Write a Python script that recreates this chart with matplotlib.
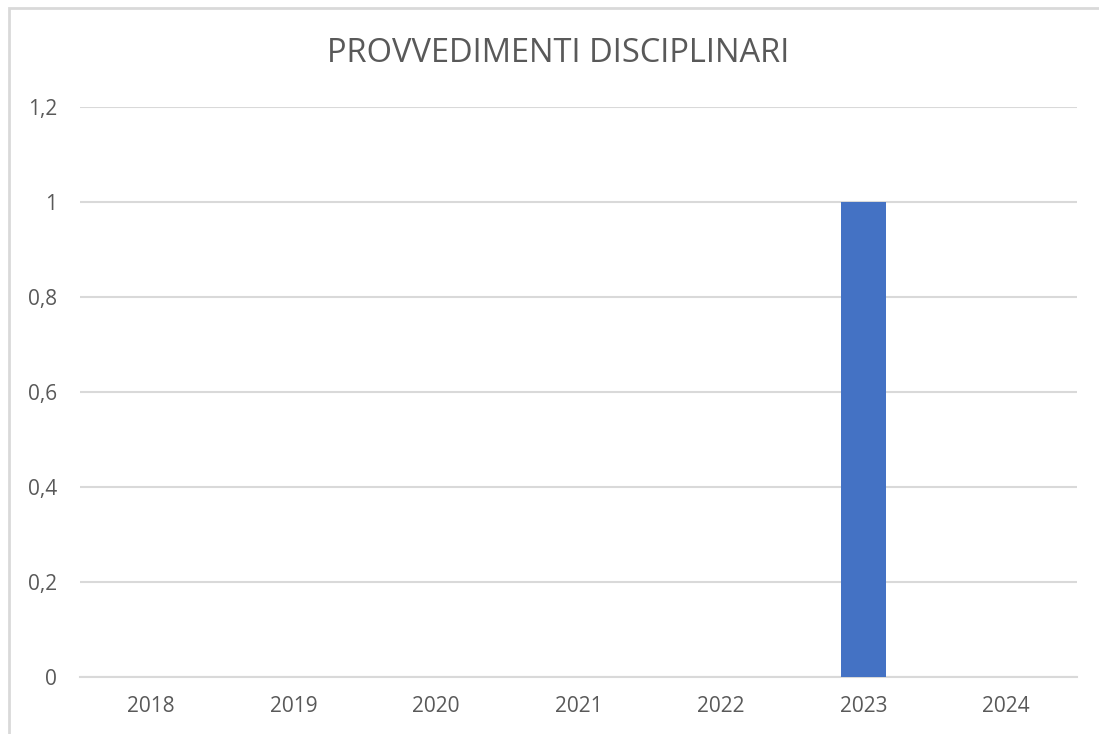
import matplotlib.pyplot as plt
from matplotlib.patches import Rectangle

years  = ["2018", "2019", "2020", "2021", "2022", "2023", "2024"]
values = [0, 0, 0, 0, 0, 1, 0]
y_ticks  = [0, 0.2, 0.4, 0.6, 0.8, 1.0, 1.2]
y_labels = ["0", "0,2", "0,4", "0,6", "0,8", "1", "1,2"]

plt.rcParams["font.family"] = ["Open Sans", "DejaVu Sans"]
TEXT = "#595959"
GRID = "#D9D9D9"

fig = plt.figure(figsize=(10.99, 7.34), dpi=100)
ax = fig.add_axes([80 / 1099, 1 - 677 / 734, (1077 - 80) / 1099, (677 - 107) / 734])

# outer chart frame (cropped at right/bottom like the screenshot)
fig.patches.append(Rectangle((9 / 1099, -0.1), 1.2, 1 - 8 / 734 + 0.1,
                             transform=fig.transFigure, fill=False,
                             edgecolor=GRID, linewidth=2))

x = range(len(years))
ax.bar(x, values, width=0.316, color="#4472C4", zorder=3)

ax.set_xlim(-0.5, len(years) - 0.5)
ax.set_ylim(0, 1.2)
ax.set_xticks(list(x))
ax.set_xticklabels(years)
ax.set_yticks(y_ticks)
ax.set_yticklabels(y_labels)
ax.tick_params(axis="both", length=0, labelsize=15, colors=TEXT)
ax.tick_params(axis="y", pad=16.5)
ax.tick_params(axis="x", pad=14)
ax.yaxis.grid(True, color=GRID, linewidth=1.5)
ax.set_axisbelow(True)
for s in ["top", "right", "left"]:
    ax.spines[s].set_visible(False)
ax.spines["bottom"].set_color(GRID)
ax.spines["bottom"].set_linewidth(1.5)

fig.text(558 / 1099, 1 - 54 / 734, "PROVVEDIMENTI DISCIPLINARI",
         ha="center", va="center", fontsize=23.5, color=TEXT)

fig.savefig("out.png", dpi=100)
